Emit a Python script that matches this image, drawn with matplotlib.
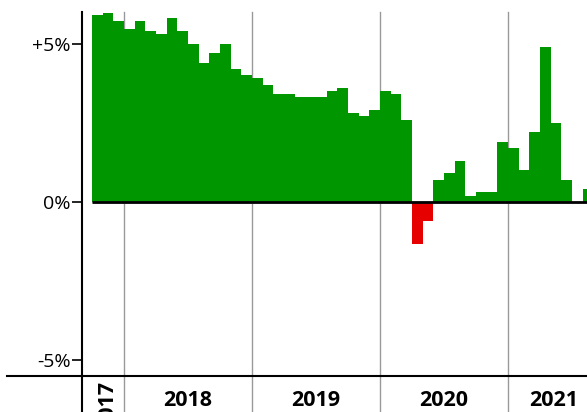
import matplotlib
matplotlib.use("Agg")
import matplotlib.pyplot as plt
from matplotlib.lines import Line2D

# monthly change, Oct 2017 .. Aug 2021 (%)
years = [2017, 2018, 2019, 2020, 2021]
values = [5.89, 5.98, 5.70,
          5.47, 5.70, 5.39, 5.30, 5.80, 5.39, 4.99, 4.39, 4.70, 4.99, 4.19, 4.00,
          3.90, 3.68, 3.40, 3.40, 3.31, 3.31, 3.31, 3.50, 3.59, 2.80, 2.71, 2.89,
          3.50, 3.40, 2.58, -1.33, -0.60, 0.69, 0.91, 1.29, 0.18, 0.31, 0.31, 1.88,
          1.70, 1.00, 2.20, 4.89, 2.49, 0.69, 0.0, 0.40]
first_month = -3  # Oct 2017, months counted from Jan 2018
ytick_vals = [-5, 0, 5]
ytick_labels = ["-5%", "0%", "+5%"]

plt.rcParams['font.family'] = ['Open Sans', 'DejaVu Sans']

W, H = 587, 412
fig = plt.figure(figsize=(W / 100, H / 100), dpi=100)
ax = fig.add_axes([82 / W, 36 / H, (W - 82) / W, 364 / H])

months = [first_month + i for i in range(len(values))]
colors = ['#009600' if v >= 0 else '#e60000' for v in values]
ax.bar(months, values, width=1.0, align='edge', color=colors, linewidth=0, zorder=2)

x_end = 43.4
ax.set_xlim(-3.94, x_end)
ax.set_ylim(-5.5, 6.0)

# zero line
ax.hlines(0, first_month, x_end, color='#aaaaaa', linewidth=1, zorder=3)
ax.hlines(0, first_month, x_end, color='black', linewidth=2, zorder=4)

# year separators, running through the label strip
for k, yr in enumerate(years[1:]):
    x = 12 * k
    ax.plot([x, x], [-0.1, 1], transform=ax.get_xaxis_transform(),
            color='#999999', linewidth=1, clip_on=False, zorder=1)

for spine in ['top', 'right', 'bottom']:
    ax.spines[spine].set_visible(False)
ax.spines['left'].set_linewidth(1.5)
ax.plot([0, 0], [-0.1, 0], transform=ax.transAxes, color='black',
        linewidth=1.5, clip_on=False)
fig.add_artist(Line2D([7 / W, 1], [36 / H, 36 / H], color='black', linewidth=1.5))

ax.set_yticks(ytick_vals)
ax.set_yticklabels(ytick_labels, fontsize=14)
ax.tick_params(axis='y', length=7, width=1.2, pad=1)
ax.set_xticks([])

# year labels
for k, yr in enumerate(years):
    if yr == 2017:
        ax.text(first_month + 1.5, -0.014, str(yr), transform=ax.get_xaxis_transform(),
                rotation=90, ha='center', va='top', fontsize=15.5,
                fontweight='bold', clip_on=False)
    else:
        x = 12 * (k - 1) + 6
        if yr == years[-1]:
            x = 12 * (k - 1) + (x_end - 12 * (k - 1)) / 2 + 0.6
        ax.text(x, -0.066, str(yr), transform=ax.get_xaxis_transform(),
                ha='center', va='center', fontsize=15.5, fontweight='bold',
                clip_on=False)

fig.savefig("out.png", dpi=100)
